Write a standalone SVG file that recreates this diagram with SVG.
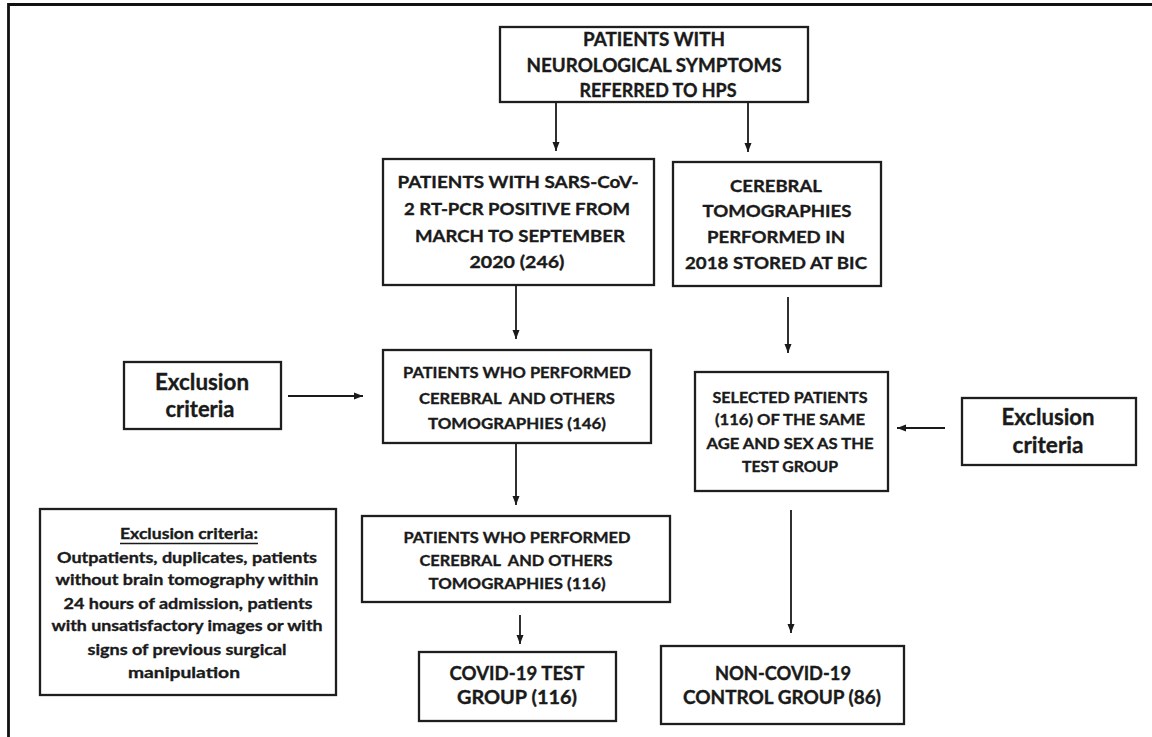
<svg xmlns="http://www.w3.org/2000/svg" width="1152" height="737" viewBox="0 0 1152 737">
<style>
.box{fill:#fff;stroke:#1e1e1e;stroke-width:2.3}
.t{font-family:Lato,"Liberation Sans",sans-serif;font-weight:bold;fill:#1a1a1a;stroke:#1a1a1a;stroke-width:0.35;text-anchor:middle}
.c{stroke:#1a1a1a;stroke-width:1.8;fill:none}
</style>
<defs>
<marker id="ah" markerWidth="9" markerHeight="9" viewBox="0 0 9 9" refX="9" refY="4.5" orient="auto" markerUnits="userSpaceOnUse">
<path d="M0,1 L9,4.5 L0,8 Z" fill="#1a1a1a"/>
</marker>
</defs>
<rect width="1152" height="737" fill="#fff"/>
<path d="M8.5,737 V4.5 H1152" fill="none" stroke="#111" stroke-width="2.8"/>

<g id="n-top">
<rect class="box" x="500" y="27" width="308" height="75"/>
<text class="t" font-size="18" x="654" y="46" textLength="142" lengthAdjust="spacingAndGlyphs">PATIENTS WITH</text>
<text class="t" font-size="18" x="654" y="72" textLength="255" lengthAdjust="spacingAndGlyphs">NEUROLOGICAL SYMPTOMS</text>
<text class="t" font-size="18" x="658" y="97" textLength="157" lengthAdjust="spacingAndGlyphs">REFERRED TO HPS</text>
</g>

<g id="n-sars">
<rect class="box" x="383" y="159" width="271" height="126"/>
<text class="t" font-size="17.5" x="518" y="188" textLength="241" lengthAdjust="spacingAndGlyphs">PATIENTS WITH SARS-CoV-</text>
<text class="t" font-size="17.5" x="517" y="215" textLength="226" lengthAdjust="spacingAndGlyphs">2 RT-PCR POSITIVE FROM</text>
<text class="t" font-size="17.5" x="520" y="242" textLength="210" lengthAdjust="spacingAndGlyphs">MARCH TO SEPTEMBER</text>
<text class="t" font-size="17.5" x="517" y="268" textLength="95" lengthAdjust="spacingAndGlyphs">2020 (246)</text>
</g>

<g id="n-cerebral">
<rect class="box" x="673" y="162" width="208" height="124"/>
<text class="t" font-size="17.5" x="776" y="192" textLength="92" lengthAdjust="spacingAndGlyphs">CEREBRAL</text>
<text class="t" font-size="17.5" x="777" y="217" textLength="149" lengthAdjust="spacingAndGlyphs">TOMOGRAPHIES</text>
<text class="t" font-size="17.5" x="776" y="243" textLength="138" lengthAdjust="spacingAndGlyphs">PERFORMED IN</text>
<text class="t" font-size="17.5" x="776" y="269" textLength="182" lengthAdjust="spacingAndGlyphs">2018 STORED AT BIC</text>
</g>

<g id="n-excl-left">
<rect class="box" x="124" y="362" width="157" height="67"/>
<text class="t" font-size="22.5" x="202" y="390" textLength="94" lengthAdjust="spacingAndGlyphs">Exclusion</text>
<text class="t" font-size="22.5" x="200" y="417" textLength="69" lengthAdjust="spacingAndGlyphs">criteria</text>
</g>

<g id="n-146">
<rect class="box" x="383" y="350" width="268" height="93"/>
<text class="t" font-size="15.5" x="517" y="378" textLength="228" lengthAdjust="spacingAndGlyphs">PATIENTS WHO PERFORMED</text>
<text class="t" font-size="15.5" x="517" y="404" textLength="196" lengthAdjust="spacingAndGlyphs" xml:space="preserve">CEREBRAL  AND OTHERS</text>
<text class="t" font-size="15.5" x="517" y="429" textLength="178" lengthAdjust="spacingAndGlyphs">TOMOGRAPHIES (146)</text>
</g>

<g id="n-selected">
<rect class="box" x="695" y="372" width="193" height="119"/>
<text class="t" font-size="15" x="790" y="403" textLength="155" lengthAdjust="spacingAndGlyphs">SELECTED PATIENTS</text>
<text class="t" font-size="15" x="790" y="425" textLength="150" lengthAdjust="spacingAndGlyphs">(116) OF THE SAME</text>
<text class="t" font-size="15" x="790" y="449" textLength="167" lengthAdjust="spacingAndGlyphs">AGE AND SEX AS THE</text>
<text class="t" font-size="15" x="790" y="472" textLength="96" lengthAdjust="spacingAndGlyphs">TEST GROUP</text>
</g>

<g id="n-excl-right">
<rect class="box" x="962" y="398" width="174" height="67"/>
<text class="t" font-size="22.5" x="1048" y="425" textLength="93" lengthAdjust="spacingAndGlyphs">Exclusion</text>
<text class="t" font-size="22.5" x="1048" y="453" textLength="71" lengthAdjust="spacingAndGlyphs">criteria</text>
</g>

<g id="n-criteria">
<rect class="box" x="40" y="509" width="296" height="186"/>
<text class="t" font-size="16" x="189" y="539" textLength="138" lengthAdjust="spacingAndGlyphs">Exclusion criteria:</text>
<line x1="120" y1="543.5" x2="258" y2="543.5" stroke="#1a1a1a" stroke-width="1.3"/>
<text class="t" font-size="16" x="187" y="563" textLength="260" lengthAdjust="spacingAndGlyphs">Outpatients, duplicates, patients</text>
<text class="t" font-size="16" x="187" y="585" textLength="263" lengthAdjust="spacingAndGlyphs">without brain tomography within</text>
<text class="t" font-size="16" x="188" y="609" textLength="249" lengthAdjust="spacingAndGlyphs">24 hours of admission, patients</text>
<text class="t" font-size="16" x="187" y="631" textLength="271" lengthAdjust="spacingAndGlyphs">with unsatisfactory images or with</text>
<text class="t" font-size="16" x="187" y="655" textLength="199" lengthAdjust="spacingAndGlyphs">signs of previous surgical</text>
<text class="t" font-size="16" x="184" y="678" textLength="112" lengthAdjust="spacingAndGlyphs">manipulation</text>
</g>

<g id="n-116">
<rect class="box" x="362" y="516" width="308" height="86"/>
<text class="t" font-size="15.5" x="517" y="543" textLength="227" lengthAdjust="spacingAndGlyphs">PATIENTS WHO PERFORMED</text>
<text class="t" font-size="15.5" x="516" y="566" textLength="193" lengthAdjust="spacingAndGlyphs" xml:space="preserve">CEREBRAL  AND OTHERS</text>
<text class="t" font-size="15.5" x="517" y="589" textLength="177" lengthAdjust="spacingAndGlyphs">TOMOGRAPHIES (116)</text>
</g>

<g id="n-covid">
<rect class="box" x="419" y="652" width="197" height="69"/>
<text class="t" font-size="18" x="517" y="680" textLength="135" lengthAdjust="spacingAndGlyphs">COVID-19 TEST</text>
<text class="t" font-size="18" x="517" y="704" textLength="120" lengthAdjust="spacingAndGlyphs">GROUP (116)</text>
</g>

<g id="n-noncovid">
<rect class="box" x="661" y="646" width="243" height="78"/>
<text class="t" font-size="18" x="783" y="680" textLength="136" lengthAdjust="spacingAndGlyphs">NON-COVID-19</text>
<text class="t" font-size="18" x="782" y="704" textLength="198" lengthAdjust="spacingAndGlyphs">CONTROL GROUP (86)</text>
</g>

<g id="connectors">
<line class="c" x1="556" y1="102" x2="556" y2="151" marker-end="url(#ah)"/>
<line class="c" x1="748" y1="102" x2="748" y2="152" marker-end="url(#ah)"/>
<line class="c" x1="516" y1="285" x2="516" y2="339" marker-end="url(#ah)"/>
<line class="c" x1="788" y1="297" x2="788" y2="353" marker-end="url(#ah)"/>
<line class="c" x1="288" y1="396" x2="363" y2="396" marker-end="url(#ah)"/>
<line class="c" x1="945" y1="428" x2="897" y2="428" marker-end="url(#ah)"/>
<line class="c" x1="516" y1="443" x2="516" y2="505" marker-end="url(#ah)"/>
<line class="c" x1="520" y1="615" x2="520" y2="644" marker-end="url(#ah)"/>
<line class="c" x1="791" y1="510" x2="791" y2="633" marker-end="url(#ah)"/>
</g>
</svg>
